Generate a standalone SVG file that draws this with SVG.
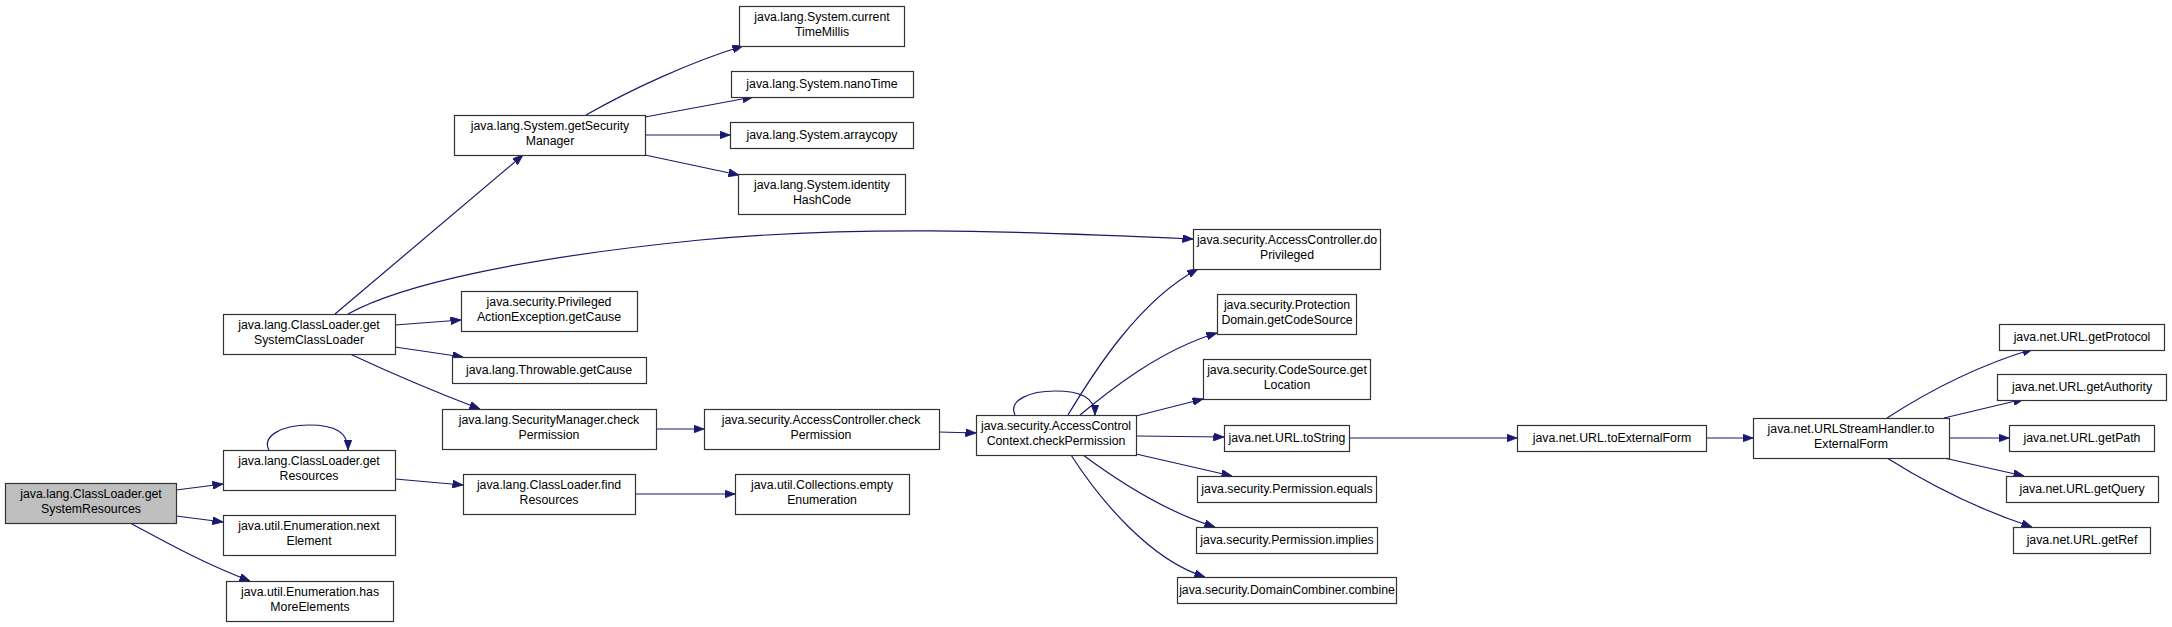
<svg xmlns="http://www.w3.org/2000/svg" width="2172" height="627" viewBox="0 0 2172 627">
<style>
.n rect{fill:#ffffff;stroke:#333333;stroke-width:1.2}
.n.root rect{fill:#bfbfbf}
.n text{font-family:"Liberation Sans",Arial,sans-serif;font-size:12.3px;fill:#000;text-anchor:middle}
#edges path{fill:none;stroke:#191970;stroke-width:1.2;marker-end:url(#arr)}
</style>
<defs>
<marker id="arr" markerUnits="userSpaceOnUse" markerWidth="11" markerHeight="8" refX="10.5" refY="4" orient="auto">
<path d="M0,0 L10.5,4 L0,8 z" fill="#191970" stroke="#191970" stroke-width="0.8"/>
</marker>
</defs>
<rect width="2172" height="627" fill="#ffffff"/>
<g id="edges">
<path d="M335,314 L523,155"/>
<path d="M176,490 L223,484"/>
<path d="M176,516 L223,522"/>
<path d="M130,523 C160,539 200,562 250,581"/>
<path d="M269,450 C262,437 280,425 309,425 C335,425 348,432 348,450"/>
<path d="M395,479 L463,485"/>
<path d="M635,494 L735,494"/>
<path d="M348,314 C400,285 520,258 700,240 C850,226 1000,230 1193,239"/>
<path d="M395,325 L461,320"/>
<path d="M395,347 L463,357"/>
<path d="M350,354 C380,368 430,390 480,409"/>
<path d="M656,429 L704,429"/>
<path d="M939,432 L976,433"/>
<path d="M1015,415 C1008,400 1030,391 1055,391 C1080,391 1095,397 1095,415"/>
<path d="M1068,415 C1095,370 1140,300 1198,269"/>
<path d="M1080,415 C1110,390 1160,350 1217,333"/>
<path d="M1136,416 L1203,399"/>
<path d="M1136,436 L1224,437"/>
<path d="M1136,454 L1232,476"/>
<path d="M1083,455 C1110,475 1160,510 1215,527"/>
<path d="M1071,455 C1100,500 1150,560 1205,577"/>
<path d="M1349,438 L1517,438"/>
<path d="M1706,438 L1753,438"/>
<path d="M1887,418 C1930,390 1980,365 2033,349"/>
<path d="M1944,418 L2024,399"/>
<path d="M1949,438 L2009,438"/>
<path d="M1944,458 L2024,476"/>
<path d="M1887,458 C1930,485 1980,510 2032,527"/>
<path d="M586,115 C630,90 690,62 743,46"/>
<path d="M645,117 L753,97"/>
<path d="M645,135 L730,135"/>
<path d="M645,155 L739,175"/>
</g>
<g id="n0" class="n root"><rect x="5.5" y="483.5" width="171" height="40"/><text x="91" y="498">java.lang.ClassLoader.get</text><text x="91" y="513">SystemResources</text></g>
<g id="n1" class="n"><rect x="223.5" y="314.5" width="172" height="40"/><text x="309" y="329">java.lang.ClassLoader.get</text><text x="309" y="344">SystemClassLoader</text></g>
<g id="n2" class="n"><rect x="223.5" y="450.5" width="172" height="40"/><text x="309" y="465">java.lang.ClassLoader.get</text><text x="309" y="480">Resources</text></g>
<g id="n3" class="n"><rect x="223.5" y="515.5" width="172" height="40"/><text x="309" y="530">java.util.Enumeration.next</text><text x="309" y="545">Element</text></g>
<g id="n4" class="n"><rect x="226.5" y="581.5" width="167" height="40"/><text x="310" y="596">java.util.Enumeration.has</text><text x="310" y="611">MoreElements</text></g>
<g id="n5" class="n"><rect x="454.5" y="115.5" width="191" height="40"/><text x="550" y="130">java.lang.System.getSecurity</text><text x="550" y="145">Manager</text></g>
<g id="n6" class="n"><rect x="739.5" y="6.5" width="165" height="40"/><text x="822" y="21">java.lang.System.current</text><text x="822" y="36">TimeMillis</text></g>
<g id="n7" class="n"><rect x="731.5" y="71.5" width="182" height="26"/><text x="822" y="88">java.lang.System.nanoTime</text></g>
<g id="n8" class="n"><rect x="730.5" y="122.5" width="183" height="26"/><text x="822" y="139">java.lang.System.arraycopy</text></g>
<g id="n9" class="n"><rect x="738.5" y="174.5" width="167" height="40"/><text x="822" y="189">java.lang.System.identity</text><text x="822" y="204">HashCode</text></g>
<g id="n10" class="n"><rect x="461.5" y="291.5" width="176" height="40"/><text x="549" y="306">java.security.Privileged</text><text x="549" y="321">ActionException.getCause</text></g>
<g id="n11" class="n"><rect x="452.5" y="357.5" width="194" height="26"/><text x="549" y="374">java.lang.Throwable.getCause</text></g>
<g id="n12" class="n"><rect x="442.5" y="409.5" width="214" height="40"/><text x="549" y="424">java.lang.SecurityManager.check</text><text x="549" y="439">Permission</text></g>
<g id="n13" class="n"><rect x="704.5" y="409.5" width="235" height="40"/><text x="821" y="424">java.security.AccessController.check</text><text x="821" y="439">Permission</text></g>
<g id="n14" class="n"><rect x="463.5" y="474.5" width="172" height="40"/><text x="549" y="489">java.lang.ClassLoader.find</text><text x="549" y="504">Resources</text></g>
<g id="n15" class="n"><rect x="735.5" y="474.5" width="174" height="40"/><text x="822" y="489">java.util.Collections.empty</text><text x="822" y="504">Enumeration</text></g>
<g id="n16" class="n"><rect x="976.5" y="415.5" width="160" height="40"/><text x="1056" y="430">java.security.AccessControl</text><text x="1056" y="445">Context.checkPermission</text></g>
<g id="n17" class="n"><rect x="1193.5" y="229.5" width="187" height="40"/><text x="1287" y="244">java.security.AccessController.do</text><text x="1287" y="259">Privileged</text></g>
<g id="n18" class="n"><rect x="1217.5" y="294.5" width="139" height="40"/><text x="1287" y="309">java.security.Protection</text><text x="1287" y="324">Domain.getCodeSource</text></g>
<g id="n19" class="n"><rect x="1203.5" y="359.5" width="167" height="40"/><text x="1287" y="374">java.security.CodeSource.get</text><text x="1287" y="389">Location</text></g>
<g id="n20" class="n"><rect x="1224.5" y="425.5" width="125" height="26"/><text x="1287" y="442">java.net.URL.toString</text></g>
<g id="n21" class="n"><rect x="1197.5" y="476.5" width="179" height="26"/><text x="1287" y="493">java.security.Permission.equals</text></g>
<g id="n22" class="n"><rect x="1196.5" y="527.5" width="181" height="26"/><text x="1287" y="544">java.security.Permission.implies</text></g>
<g id="n23" class="n"><rect x="1177.5" y="577.5" width="219" height="26"/><text x="1287" y="594">java.security.DomainCombiner.combine</text></g>
<g id="n24" class="n"><rect x="1517.5" y="425.5" width="189" height="26"/><text x="1612" y="442">java.net.URL.toExternalForm</text></g>
<g id="n25" class="n"><rect x="1753.5" y="418.5" width="196" height="40"/><text x="1851" y="433">java.net.URLStreamHandler.to</text><text x="1851" y="448">ExternalForm</text></g>
<g id="n26" class="n"><rect x="1999.5" y="324.5" width="165" height="26"/><text x="2082" y="341">java.net.URL.getProtocol</text></g>
<g id="n27" class="n"><rect x="1997.5" y="374.5" width="169" height="26"/><text x="2082" y="391">java.net.URL.getAuthority</text></g>
<g id="n28" class="n"><rect x="2009.5" y="425.5" width="145" height="26"/><text x="2082" y="442">java.net.URL.getPath</text></g>
<g id="n29" class="n"><rect x="2006.5" y="476.5" width="152" height="26"/><text x="2082" y="493">java.net.URL.getQuery</text></g>
<g id="n30" class="n"><rect x="2013.5" y="527.5" width="137" height="26"/><text x="2082" y="544">java.net.URL.getRef</text></g>
</svg>
